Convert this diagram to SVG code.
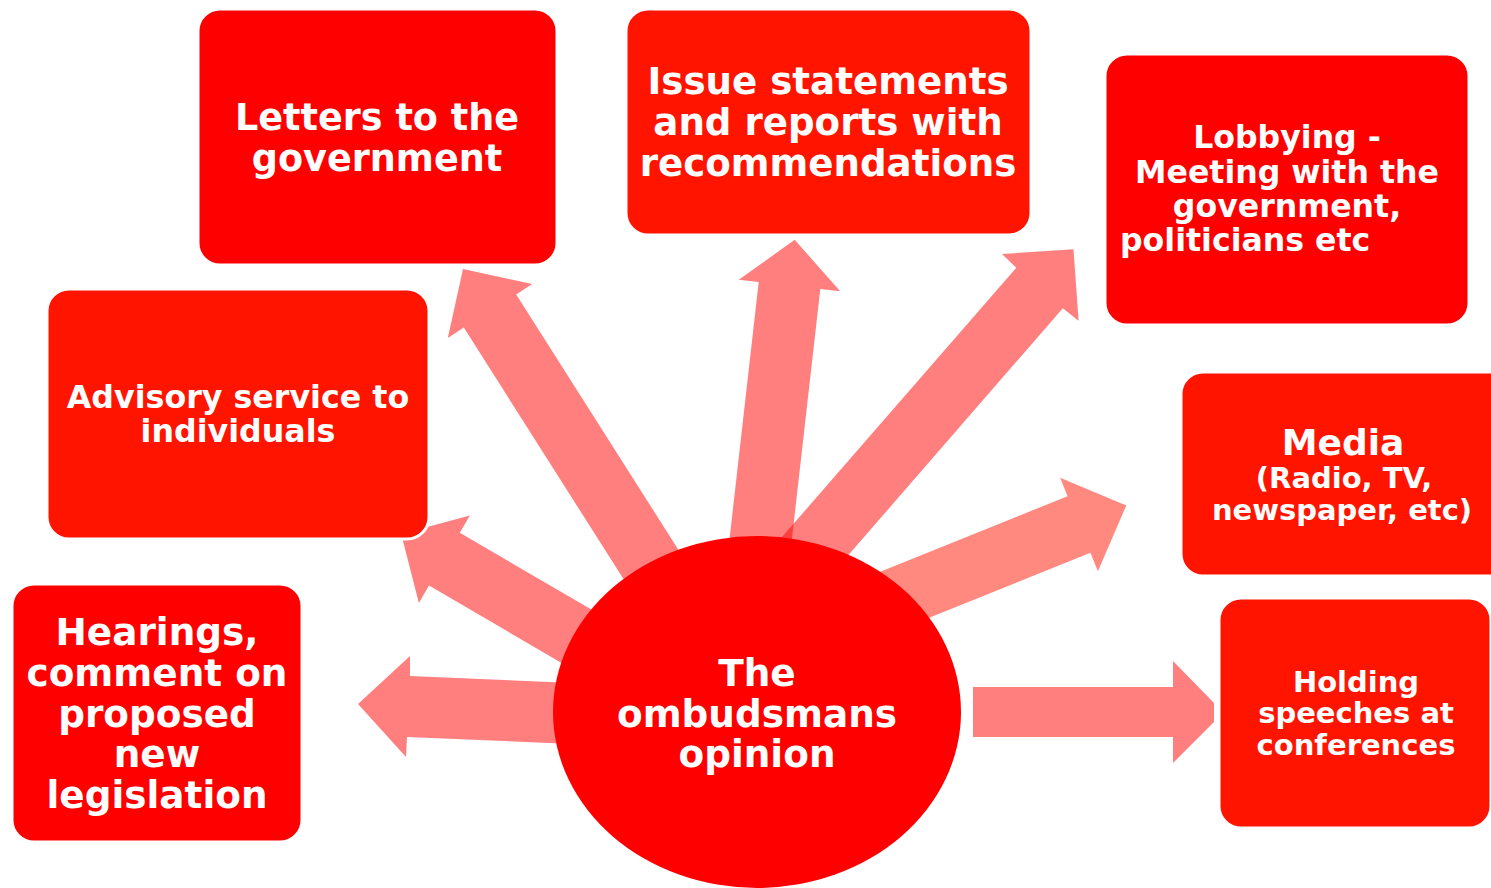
<svg xmlns="http://www.w3.org/2000/svg" width="1491" height="888" viewBox="0 0 1491 888">
<style>
.box{fill:#ff0000;stroke:#ffffff;stroke-width:3}
.box2{fill:#ff1400;stroke:#ffffff;stroke-width:3}
.arrow{fill:#ff0000;fill-opacity:0.5}
.arrow2{fill:#ff1100;fill-opacity:0.5}
text{font-family:"DejaVu Sans",Verdana,sans-serif;font-weight:bold;fill:#ffffff;text-anchor:middle}
</style>
<rect width="1491" height="888" fill="#ffffff"/>
<g id="connectors">
<polygon class="arrow" points="704.2,590.4 516.2,294.4 532.2,284.1 463,269 447.8,337.9 463.8,327.6 651.8,623.6"/>
<polygon class="arrow" points="780.8,637 820.3,289 840.2,291.3 794.7,239.8 738.8,279.7 758.7,282 719.2,630"/>
<polygon class="arrow" points="800.4,610.3 1062.8,308.3 1078.6,320.7 1073.5,249.3 1002,254 1016.3,267.7 753.6,569.7"/>
<polygon class="arrow2" points="866.6,577.2 1067.6,496.2 1060.1,477.7 1126.3,505.4 1097.9,571.3 1090.4,552.8 889.4,633.8"/>
<polygon class="arrow" points="973,687 1173,687 1173,661 1214,703 1214,722 1173,763 1173,737 973,737"/>
<polygon class="arrow" points="620,685 410,676 410,656 358,704 406,757 407,737 620,746"/>
<polygon class="arrow" points="649.9,643.6 459.8,532.8 469.9,515.4 401.2,534 418.9,603 429,585.6 619.1,696.4"/>
</g>
<g id="center">
<ellipse cx="757" cy="712" rx="204" ry="176" fill="#ff0000"/>
<text font-size="37.4" x="757" y="686">The</text>
<text font-size="37.4" x="757" y="727">ombudsmans</text>
<text font-size="37.4" x="757" y="767">opinion</text>
</g>
<g id="letters">
<rect class="box" x="198" y="9" width="359" height="256" rx="22"/>
<text font-size="36.6" x="377" y="130">Letters to the</text>
<text font-size="36.6" x="377" y="171">government</text>
</g>
<g id="issue">
<rect class="box2" x="626" y="9" width="405" height="226" rx="22"/>
<text font-size="37.2" x="828" y="94">Issue statements</text>
<text font-size="37.2" x="828" y="135">and reports with</text>
<text font-size="37.2" x="828" y="176">recommendations</text>
</g>
<g id="lobbying">
<rect class="box" x="1105" y="54" width="364" height="271" rx="22"/>
<text font-size="31.6" x="1287" y="148">Lobbying -</text>
<text font-size="31.6" x="1287" y="183">Meeting with the</text>
<text font-size="31.6" x="1287" y="217">government,</text>
<text font-size="31.6" x="1120" y="251" style="text-anchor:start">politicians etc</text>
</g>
<g id="advisory">
<rect class="box2" x="47" y="289" width="382" height="250" rx="22"/>
<text font-size="31.7" x="238" y="408">Advisory service to</text>
<text font-size="31.7" x="238" y="442">individuals</text>
</g>
<g id="media">
<rect class="box2" x="1181" y="372" width="330" height="204" rx="22"/>
<text font-size="36" x="1343" y="455">Media</text>
<text font-size="29" x="1344" y="488">(Radio, TV,</text>
<text font-size="29" x="1342" y="520">newspaper, etc)</text>
</g>
<g id="hearings">
<rect class="box" x="12" y="584" width="290" height="258" rx="22"/>
<text font-size="37.4" x="157" y="645">Hearings,</text>
<text font-size="37.4" x="157" y="686">comment on</text>
<text font-size="37.4" x="157" y="727">proposed</text>
<text font-size="37.4" x="157" y="767">new</text>
<text font-size="37.4" x="157" y="808">legislation</text>
</g>
<g id="holding">
<rect class="box2" x="1219" y="598" width="272" height="230" rx="22"/>
<text font-size="29" x="1356" y="692">Holding</text>
<text font-size="29" x="1356" y="723">speeches at</text>
<text font-size="29" x="1356" y="755">conferences</text>
</g>
</svg>
